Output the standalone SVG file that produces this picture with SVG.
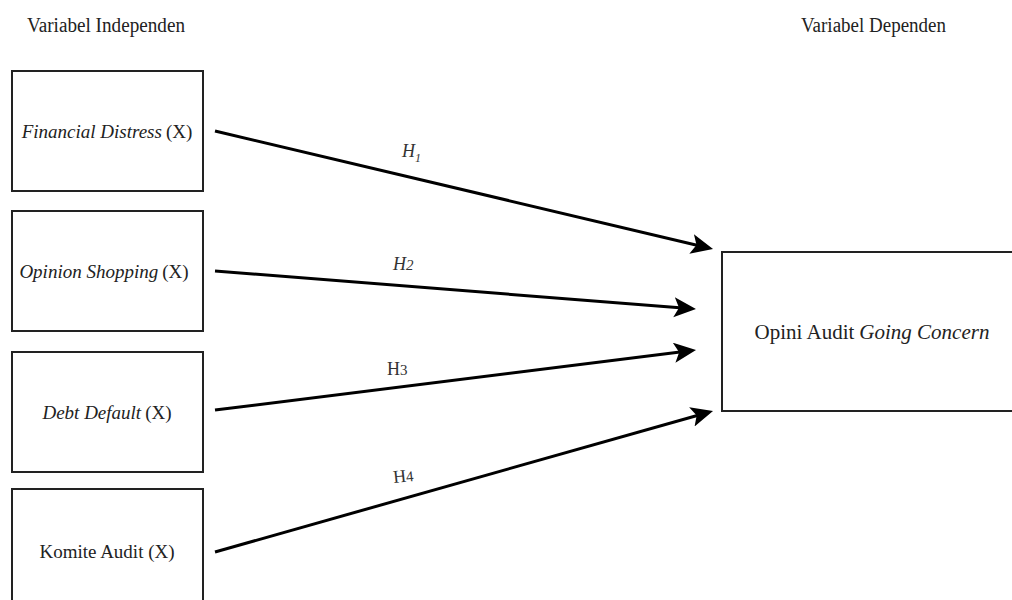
<svg xmlns="http://www.w3.org/2000/svg" width="1012" height="600" viewBox="0 0 1012 600">
<style>
  .box { fill: #ffffff; stroke: #222222; stroke-width: 2; }
  .t { font-family: "Liberation Serif", "Times New Roman", serif; font-size: 19px; fill: #222222; text-anchor: middle; }
  .hd { font-family: "Liberation Serif", "Times New Roman", serif; font-size: 20px; fill: #222222; }
  .h { font-family: "Liberation Serif", "Times New Roman", serif; font-size: 18px; fill: #333333; }
  .conn { stroke: #000000; stroke-width: 3; fill: none; marker-end: url(#arr); }
</style>
<defs>
  <marker id="arr" markerUnits="userSpaceOnUse" markerWidth="24" markerHeight="22" refX="12" refY="10" orient="auto" viewBox="0 0 24 22">
    <path d="M0,0 L22,10 L0,20 L5,10 z" fill="#000000"/>
  </marker>
</defs>
<rect width="1012" height="600" fill="#ffffff"/>

<text class="hd" x="27" y="32" textLength="158" lengthAdjust="spacingAndGlyphs">Variabel Independen</text>
<text class="hd" x="801" y="32" textLength="145" lengthAdjust="spacingAndGlyphs">Variabel Dependen</text>

<g id="node-financial-distress">
  <rect class="box" x="12" y="71" width="191" height="120"/>
  <text class="t" x="107" y="138"><tspan font-style="italic">Financial Distress</tspan><tspan dx="4">(X)</tspan></text>
</g>
<g id="node-opinion-shopping">
  <rect class="box" x="12" y="211" width="191" height="120"/>
  <text class="t" x="104" y="278"><tspan font-style="italic">Opinion Shopping</tspan><tspan dx="4">(X)</tspan></text>
</g>
<g id="node-debt-default">
  <rect class="box" x="12" y="352" width="191" height="120"/>
  <text class="t" x="107" y="419"><tspan font-style="italic">Debt Default</tspan><tspan dx="4">(X)</tspan></text>
</g>
<g id="node-komite-audit">
  <rect class="box" x="12" y="489" width="191" height="130"/>
  <text class="t" x="107" y="558">Komite Audit (X)</text>
</g>
<g id="node-opini-audit">
  <rect class="box" x="722" y="252" width="310" height="159"/>
  <text class="t" x="872" y="339" style="font-size:21px">Opini Audit<tspan dx="5" font-style="italic">Going Concern</tspan></text>
</g>

<g id="connectors">
  <line class="conn" x1="215" y1="131" x2="703.3" y2="246.7"/>
  <line class="conn" x1="215" y1="271" x2="686.0" y2="308.2"/>
  <line class="conn" x1="215" y1="410" x2="686.1" y2="351.3"/>
  <line class="conn" x1="215" y1="552" x2="703.4" y2="413.7"/>
  <text class="h" x="402" y="157" font-style="italic">H<tspan font-size="12" dy="5">1</tspan></text>
  <text class="h" x="393" y="270" font-style="italic">H<tspan font-size="15">2</tspan></text>
  <text class="h" x="387" y="375">H<tspan font-size="15">3</tspan></text>
  <text class="h" x="393" y="482" transform="rotate(-6 403 476)">H<tspan font-size="15">4</tspan></text>
</g>
</svg>
